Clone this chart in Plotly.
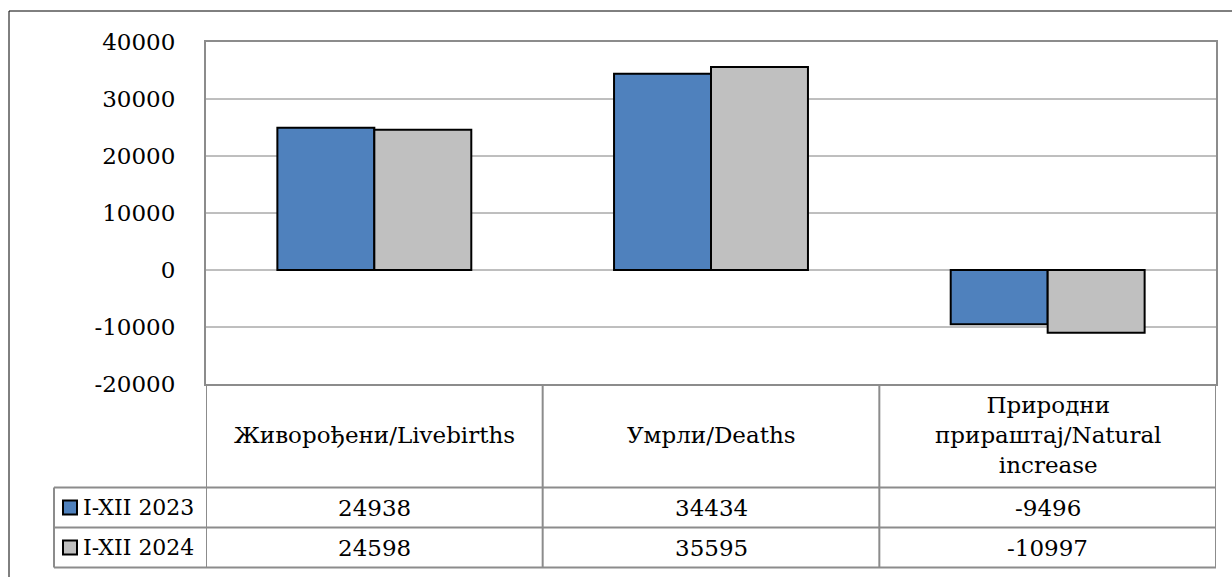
import plotly.graph_objects as go

categories = ["Живорођени/Livebirths", "Умрли/Deaths", "Природни<br>прираштај/Natural<br>increase"]
series_names = ["I-XII 2023", "I-XII 2024"]
values_2023 = [24938, 34434, -9496]
values_2024 = [24598, 35595, -10997]
series_values = [values_2023, values_2024]
colors = ["#4f81bd", "#c0c0c0"]
y_ticks = [-20000, -10000, 0, 10000, 20000, 30000, 40000]

FONT = "DejaVu Serif"
FS = 23
W, H = 1232, 577
ML, MR, MT, MB = 206, 16, 42, 193
PW = W - ML - MR
PH = H - MT - MB

def px(xp):
    return (xp - ML) / PW

def py(yp):
    return (H - MB - yp) / PH

xs = list(range(len(categories)))

fig = go.Figure()
for name, vals, col in zip(series_names, series_values, colors):
    fig.add_trace(go.Bar(
        x=xs, y=vals, name=name,
        marker=dict(color=col, line=dict(color="black", width=2)),
        showlegend=False,
    ))

grid_col = "#7f7f7f"
tbl_col = "#8c8c8c"
shapes = []
for t in y_ticks[1:-1]:
    shapes.append(dict(type="line", xref="paper", yref="y", x0=0, x1=1, y0=t, y1=t,
                       line=dict(color=grid_col, width=1), layer="below"))
shapes.append(dict(type="rect", xref="paper", yref="paper", x0=px(9), x1=px(1260), y0=py(11), y1=py(600),
                   line=dict(color="black", width=1), layer="below"))
row_lines = [487.5, 527.5, 567.5]
for yl in row_lines:
    shapes.append(dict(type="line", xref="paper", yref="paper", x0=px(54), x1=1, y0=py(yl), y1=py(yl),
                       line=dict(color=tbl_col, width=2)))
for b in [-0.5, 0.5, 1.5, 2.5]:
    shapes.append(dict(type="line", xref="x", yref="paper", x0=b, x1=b, y0=0, y1=py(row_lines[-1]),
                       line=dict(color=tbl_col, width=2)))
shapes.append(dict(type="line", xref="paper", yref="paper", x0=px(54), x1=px(54), y0=py(row_lines[0]), y1=py(row_lines[-1]),
                   line=dict(color=tbl_col, width=2)))

annotations = []
for i, c in enumerate(categories):
    annotations.append(dict(x=i, y=py(435), xref="x", yref="paper", text=c, showarrow=False,
                            font=dict(family=FONT, size=FS, color="black"), xanchor="center", yanchor="middle"))
row_centers = [507.5, 547.5]
for r, (name, vals, col) in enumerate(zip(series_names, series_values, colors)):
    yc = row_centers[r]
    for i, v in enumerate(vals):
        annotations.append(dict(x=i, y=py(yc), xref="x", yref="paper", text=str(v), showarrow=False,
                                font=dict(family=FONT, size=FS, color="black"), xanchor="center", yanchor="middle"))
    annotations.append(dict(x=px(81), y=py(yc), xref="paper", yref="paper", text=name, showarrow=False,
                            font=dict(family=FONT, size=FS - 1, color="black"), xanchor="left", yanchor="middle"))
    shapes.append(dict(type="rect", xref="paper", yref="paper", x0=px(63), x1=px(77), y0=py(yc - 7), y1=py(yc + 7),
                       fillcolor=col, line=dict(color="black", width=2)))

fig.update_layout(
    width=W, height=H,
    margin=dict(l=ML, r=MR, t=MT, b=MB, pad=0),
    paper_bgcolor="white", plot_bgcolor="white",
    barmode="group", bargap=0.424, bargroupgap=0,
    shapes=shapes, annotations=annotations,
    xaxis=dict(range=[-0.5, 2.5], showticklabels=False, showgrid=False, zeroline=False,
               showline=True, mirror=True, linecolor=tbl_col, linewidth=2, fixedrange=True),
    yaxis=dict(range=[-20000, 40000], tickvals=y_ticks, ticktext=[str(t) for t in y_ticks],
               showgrid=False, zeroline=False, showline=True, mirror=True, linecolor=tbl_col, linewidth=2,
               tickfont=dict(family=FONT, size=FS, color="black"), ticks="", ticklabelstandoff=24),
    font=dict(family=FONT, color="black"),
)

fig.write_html("out.html", config={"displayModeBar": False},
               post_script="document.body.style.margin='0px';document.body.style.padding='0px';")
